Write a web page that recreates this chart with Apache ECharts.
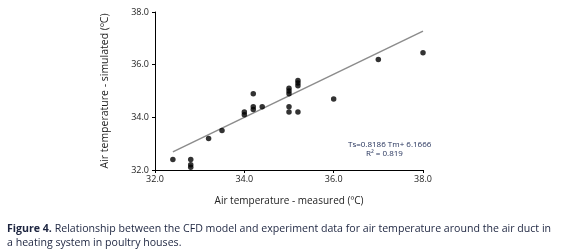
<!DOCTYPE html>
<html>
<head>
<meta charset="utf-8">
<script src="https://cdn.jsdelivr.net/npm/echarts@6/dist/echarts.min.js"></script>
<style>
html,body{margin:0;padding:0;background:#fff;}
#chart{width:568px;height:252px;}
</style>
</head>
<body>
<div id="chart"></div>
<script>
// measured vs simulated air temperature (ºC)
var measured  = [32.4, 32.8, 32.8, 32.8, 33.2, 33.5, 34.0, 34.0, 34.2, 34.2, 34.2, 34.4, 35.0, 35.0, 35.0, 35.0, 35.0, 35.2, 35.2, 35.2, 35.2, 36.0, 37.0, 38.0];
var simulated = [32.4, 32.4, 32.2, 32.1, 33.2, 33.5, 34.2, 34.1, 34.9, 34.4, 34.3, 34.4, 35.1, 35.0, 34.9, 34.4, 34.2, 34.2, 35.4, 35.3, 35.2, 34.7, 36.2, 36.45];
var fitX = [32.4, 38.0];   // range of the fitted line
var slope = 0.8186, intercept = 6.1666;
var ticks = ['32.0', '34.0', '36.0', '38.0'];

var pts = [];
for (var i = 0; i < measured.length; i++) {
	pts.push([measured[i], simulated[i]]);
}
var fit = [];
for (var j = 0; j < fitX.length; j++) {
	fit.push([fitX[j], slope * fitX[j] + intercept]);
}

var font = '"Open Sans", "Noto Sans", sans-serif';
var myChart = echarts.init(document.getElementById('chart'), null, {renderer: 'canvas'});
var option = {
	animation: false,
	backgroundColor: '#fff',
	textStyle: {fontFamily: font},
	grid: {left: 155, right: 145, top: 12, bottom: 82},
	xAxis: {
		type: 'value', min: 32, max: 38, interval: 2,
		name: 'Air temperature - measured (ºC)',
		nameLocation: 'middle', nameGap: 26,
		nameTextStyle: {fontSize: 10, color: '#222', fontFamily: font},
		axisLine: {lineStyle: {color: '#000', width: 1}},
		axisTick: {show: true, length: 3, lineStyle: {color: '#000'}},
		axisLabel: {fontSize: 9, color: '#222', margin: 5, fontFamily: font,
			formatter: function (v) { return ticks[(v - 32) / 2]; }},
		splitLine: {show: false}
	},
	yAxis: {
		type: 'value', min: 32, max: 38, interval: 2,
		name: 'Air temperature - simulated (ºC)',
		nameLocation: 'middle', nameGap: 44,
		nameTextStyle: {fontSize: 10.5, color: '#222', fontFamily: font},
		axisLine: {show: true, lineStyle: {color: '#000', width: 1}},
		axisTick: {show: true, length: 3, lineStyle: {color: '#000'}},
		axisLabel: {fontSize: 9, color: '#222', margin: 6, fontFamily: font,
			formatter: function (v) { return ticks[(v - 32) / 2]; }},
		splitLine: {show: false}
	},
	series: [{
		type: 'line',
		data: fit,
		symbol: 'none',
		lineStyle: {color: '#8c8c8c', width: 1.5},
		z: 1
	}, {
		type: 'scatter',
		data: pts,
		symbol: 'circle',
		symbolSize: 5.5,
		itemStyle: {color: '#000'},
		z: 2
	}],
	graphic: [{
		type: 'text', left: 348, top: 141,
		style: {text: 'Ts=0.8186 Tm+ 6.1666', fontSize: 8, fill: '#1d2b55', fontFamily: font}
	}, {
		type: 'text', left: 366, top: 150,
		style: {text: 'R² = 0.819', fontSize: 8, fill: '#1d2b55', fontFamily: font}
	}, {
		type: 'text', left: 7, top: 222,
		style: {
			text: '{b|Figure 4.} Relationship between the CFD model and experiment data for air temperature around the air duct in\na heating system in poultry houses.',
			fontSize: 10.6, fill: '#1d2540', fontFamily: font, lineHeight: 14,
			rich: {b: {fontWeight: 'bold', fontSize: 10.6, fill: '#1d2540', fontFamily: font}}
		}
	}]
};
myChart.setOption(option);
</script>
</body>
</html>
